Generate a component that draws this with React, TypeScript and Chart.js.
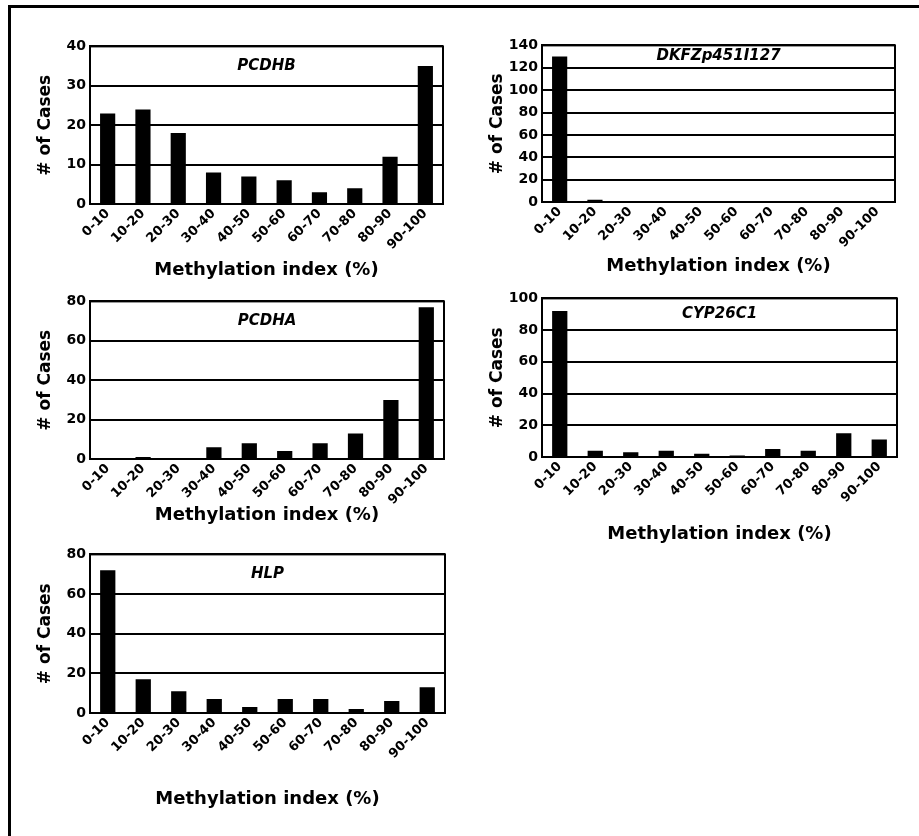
import React, { useEffect, useRef } from "react";
import { Chart, registerables } from "chart.js";

Chart.register(...registerables);

// ---------- data ----------
const categories = ["0-10", "10-20", "20-30", "30-40", "40-50", "50-60", "60-70", "70-80", "80-90", "90-100"];
const pcdhbValues = [23, 24, 18, 8, 7, 6, 3, 4, 12, 35];
const dkfzValues = [130, 2, 0.5, 0.5, 0, 0, 0, 1, 0.5, 0];
const pcdhaValues = [0, 1, 0, 6, 8, 4, 8, 13, 30, 77];
const cyp26c1Values = [92, 4, 3, 4, 2, 1, 5, 4, 15, 11];
const hlpValues = [72, 17, 11, 7, 3, 7, 7, 2, 6, 13];
const geneNames = ["PCDHB", "DKFZp451I127", "PCDHA", "CYP26C1", "HLP"];
const seriesList = [pcdhbValues, dkfzValues, pcdhaValues, cyp26c1Values, hlpValues];
const yMaxes = [40, 140, 80, 100, 80];
const yStepSizes = [10, 20, 20, 20, 20];
const yAxisTitle = "# of Cases";
const xAxisTitle = "Methylation index (%)";

// ---------- layout (plot-area boxes in page pixels) ----------
const panelBoxes = [
  { L: 90, R: 443, T: 44, B: 204, titleY: 270 },
  { L: 542, R: 895, T: 43, B: 202, titleY: 266 },
  { L: 90, R: 444, T: 299, B: 459, titleY: 515 },
  { L: 542, R: 897, T: 296, B: 457, titleY: 534 },
  { L: 90, R: 445, T: 552, B: 713, titleY: 799 },
];
const Y_AXIS_W = 60;
const PAD_TOP = 10;
const PAD_RIGHT = 6;
const FONT = "'DejaVu Sans', 'Liberation Sans', Arial, sans-serif";

const decorPlugin = {
  id: "decor",
  afterDraw(chart: any, _args: any, opts: any) {
    const { ctx, chartArea: a, scales } = chart;
    const y = scales.y;
    ctx.save();
    ctx.strokeStyle = "#000";
    ctx.lineWidth = 2;
    ctx.strokeRect(a.left, a.top, a.right - a.left, a.bottom - a.top);
    const max = y.max;
    const step = opts.step;
    const ty = (y.getPixelForValue(max) + y.getPixelForValue(max - step)) / 2;
    ctx.fillStyle = "#000";
    ctx.font = `italic bold 15px ${FONT}`;
    ctx.textAlign = "center";
    ctx.textBaseline = "middle";
    ctx.fillText(opts.text, (a.left + a.right) / 2, ty);
    ctx.restore();
  },
};

function Panel({ index }: { index: number }) {
  const ref = useRef<HTMLCanvasElement | null>(null);
  const box = panelBoxes[index];
  const left = box.L - Y_AXIS_W;
  const top = box.T - PAD_TOP;
  const width = box.R - left + PAD_RIGHT;
  const xAxisH = Math.round(box.titleY + 10.8 - box.B);
  const height = PAD_TOP + (box.B - box.T) + xAxisH;

  useEffect(() => {
    if (!ref.current) return;
    const chart = new Chart(ref.current, {
      type: "bar",
      data: {
        labels: categories,
        datasets: [
          {
            data: seriesList[index],
            backgroundColor: "#000",
            borderWidth: 0,
            barPercentage: 0.43,
            categoryPercentage: 1,
          },
        ],
      },
      options: {
        animation: false,
        responsive: false,
        devicePixelRatio: 1,
        layout: { padding: { top: PAD_TOP, right: PAD_RIGHT, left: 0, bottom: 0 } },
        plugins: {
          legend: { display: false },
          tooltip: { enabled: false },
          decor: { text: geneNames[index], step: yStepSizes[index] },
        } as any,
        scales: {
          x: {
            grid: { display: false, drawTicks: false },
            border: { display: true, color: "#000", width: 2 },
            ticks: {
              color: "#000",
              font: { family: FONT, size: 13, weight: "bold" },
              minRotation: 45,
              maxRotation: 45,
              autoSkip: false,
              padding: 2,
            },
            title: {
              display: true,
              text: xAxisTitle,
              color: "#000",
              font: { family: FONT, size: 18, weight: "bold" },
              padding: { top: 0, bottom: 0 },
            },
            afterFit: (scale: any) => {
              scale.height = xAxisH;
            },
          },
          y: {
            min: 0,
            max: yMaxes[index],
            grid: { display: true, color: "#000", lineWidth: 2, drawTicks: false },
            border: { display: true, color: "#000", width: 2 },
            ticks: {
              stepSize: yStepSizes[index],
              color: "#000",
              font: { family: FONT, size: 14, weight: "bold" },
              padding: 4,
            },
            title: {
              display: true,
              text: yAxisTitle,
              color: "#000",
              font: { family: FONT, size: 17, weight: "bold" },
              padding: { top: 5, bottom: 0 },
            },
            afterFit: (scale: any) => {
              scale.width = Y_AXIS_W;
            },
          },
        },
      },
      plugins: [decorPlugin],
    });
    return () => chart.destroy();
  }, [index]);

  return (
    <canvas
      ref={ref}
      width={width}
      height={height}
      style={{ position: "absolute", left, top, width, height }}
    />
  );
}

export default function App() {
  return (
    <div
      style={{
        position: "fixed",
        left: 0,
        top: 0,
        width: 919,
        height: 836,
        overflow: "hidden",
        background: "#fff",
      }}
    >
      <div
        style={{
          position: "absolute",
          left: 8,
          top: 5,
          width: 920,
          height: 834,
          border: "3px solid #000",
          boxSizing: "border-box",
        }}
      />
      {panelBoxes.map((_, i) => (
        <Panel key={i} index={i} />
      ))}
    </div>
  );
}
